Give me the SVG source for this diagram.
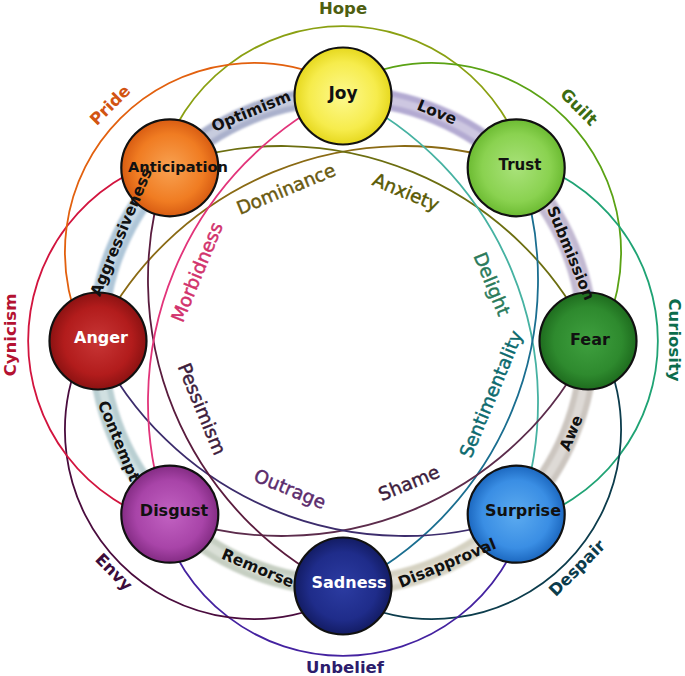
<svg xmlns="http://www.w3.org/2000/svg" width="685" height="676" viewBox="0 0 685 676">
<defs>
<style>
.arc{fill:none;stroke-width:1.8}
.band{fill:none;stroke-width:20}
.hl{fill:none;stroke-width:8;stroke:#ffffff;stroke-opacity:0.35}
.node{stroke:#111;stroke-width:2.2}
.nl{font-family:"DejaVu Sans","Liberation Sans",sans-serif;font-weight:bold;font-size:16px;text-anchor:middle}
.bl{font-family:"DejaVu Sans","Liberation Sans",sans-serif;font-weight:bold;font-size:15.5px;text-anchor:middle;fill:#111}
.ol{font-family:"DejaVu Sans","Liberation Sans",sans-serif;font-weight:bold;font-size:16.5px;text-anchor:middle}
.il{font-family:"DejaVu Sans","Liberation Sans",sans-serif;font-size:18.5px;text-anchor:middle;stroke-width:0.45}
</style>
<filter id="soft" x="-10%" y="-10%" width="120%" height="120%"><feGaussianBlur stdDeviation="1.3"/></filter>
<radialGradient id="gJoy"><stop offset="0" stop-color="#fdf98e"/><stop offset="0.7" stop-color="#f6ec4c"/><stop offset="1" stop-color="#e6d81e"/></radialGradient>
<radialGradient id="gTrust"><stop offset="0" stop-color="#a9e27a"/><stop offset="0.7" stop-color="#8ad250"/><stop offset="1" stop-color="#6cbb32"/></radialGradient>
<radialGradient id="gFear"><stop offset="0" stop-color="#3fa03f"/><stop offset="0.7" stop-color="#2e8a2e"/><stop offset="1" stop-color="#1e6c1e"/></radialGradient>
<radialGradient id="gSurprise"><stop offset="0" stop-color="#5cabf0"/><stop offset="0.7" stop-color="#3a8ee4"/><stop offset="1" stop-color="#1c68c0"/></radialGradient>
<radialGradient id="gSadness"><stop offset="0" stop-color="#2c3ca2"/><stop offset="0.7" stop-color="#1f2c8a"/><stop offset="1" stop-color="#131c64"/></radialGradient>
<radialGradient id="gDisgust"><stop offset="0" stop-color="#c262c2"/><stop offset="0.7" stop-color="#a844a8"/><stop offset="1" stop-color="#842c84"/></radialGradient>
<radialGradient id="gAnger"><stop offset="0" stop-color="#c83636"/><stop offset="0.7" stop-color="#b21c1c"/><stop offset="1" stop-color="#8c1212"/></radialGradient>
<radialGradient id="gAnt"><stop offset="0" stop-color="#f8a252"/><stop offset="0.7" stop-color="#f07c22"/><stop offset="1" stop-color="#d85c12"/></radialGradient>
</defs>
<rect width="685" height="676" fill="#ffffff"/>

<g id="band" filter="url(#soft)">
<path class="band" stroke="#aab1cc" d="M169.76,167.76 A245,245 0 0 1 343,96"/>
<path class="band" stroke="#b3aad2" d="M343,96 A245,245 0 0 1 516.24,167.76"/>
<path class="band" stroke="#c2b9d2" d="M516.24,167.76 A245,245 0 0 1 588,341"/>
<path class="band" stroke="#ccc6c0" d="M588,341 A245,245 0 0 1 516.24,514.24"/>
<path class="band" stroke="#d5d2c2" d="M516.24,514.24 A245,245 0 0 1 343,586"/>
<path class="band" stroke="#c6cfc2" d="M343,586 A245,245 0 0 1 169.76,514.24"/>
<path class="band" stroke="#b9cfd2" d="M169.76,514.24 A245,245 0 0 1 98,341"/>
<path class="band" stroke="#afc6d8" d="M98,341 A245,245 0 0 1 169.76,167.76"/>
<circle class="hl" cx="343" cy="341" r="245"/>
</g>

<g id="connectors">
<!-- secondary dyads (outer) -->
<path class="arc" stroke="#8aa012" d="M160.3,165.9 A189.3,189.3 0 0 1 525.7,165.9"/>
<path class="arc" stroke="#5aa214" d="M160.3,165.9 A189.3,189.3 0 0 1 525.7,165.9" transform="rotate(45 343 341)"/>
<path class="arc" stroke="#1fa374" d="M160.3,165.9 A189.3,189.3 0 0 1 525.7,165.9" transform="rotate(90 343 341)"/>
<path class="arc" stroke="#0c3c4c" d="M160.3,165.9 A189.3,189.3 0 0 1 525.7,165.9" transform="rotate(135 343 341)"/>
<path class="arc" stroke="#4422a0" d="M160.3,165.9 A189.3,189.3 0 0 1 525.7,165.9" transform="rotate(180 343 341)"/>
<path class="arc" stroke="#4a0c3e" d="M160.3,165.9 A189.3,189.3 0 0 1 525.7,165.9" transform="rotate(225 343 341)"/>
<path class="arc" stroke="#d2143e" d="M160.3,165.9 A189.3,189.3 0 0 1 525.7,165.9" transform="rotate(270 343 341)"/>
<path class="arc" stroke="#e2600e" d="M160.3,165.9 A189.3,189.3 0 0 1 525.7,165.9" transform="rotate(315 343 341)"/>
<!-- tertiary dyads (inner) -->
<path class="arc" stroke="#8a6a14" d="M114.8,245.1 A343,343 0 0 1 571.2,245.1" transform="rotate(-22.5 343 341)"/>
<path class="arc" stroke="#6c6e10" d="M114.8,245.1 A343,343 0 0 1 571.2,245.1" transform="rotate(22.5 343 341)"/>
<path class="arc" stroke="#46b2a2" d="M114.8,245.1 A343,343 0 0 1 571.2,245.1" transform="rotate(67.5 343 341)"/>
<path class="arc" stroke="#1a6e90" d="M114.8,245.1 A343,343 0 0 1 571.2,245.1" transform="rotate(112.5 343 341)"/>
<path class="arc" stroke="#5c2c4c" d="M114.8,245.1 A343,343 0 0 1 571.2,245.1" transform="rotate(157.5 343 341)"/>
<path class="arc" stroke="#3c2c6c" d="M114.8,245.1 A343,343 0 0 1 571.2,245.1" transform="rotate(202.5 343 341)"/>
<path class="arc" stroke="#5a1c3e" d="M114.8,245.1 A343,343 0 0 1 571.2,245.1" transform="rotate(247.5 343 341)"/>
<path class="arc" stroke="#e2347a" d="M114.8,245.1 A343,343 0 0 1 571.2,245.1" transform="rotate(-67.5 343 341)"/>
</g>

<text class="bl" transform="translate(119,441) rotate(67.5)" dy="0.35em">Contempt</text>

<g id="joy"><circle class="node" cx="343" cy="96" r="48.5" fill="url(#gJoy)"/><text class="nl" x="343" y="93" dy="0.35em" fill="#111" style="font-size:17px">Joy</text></g>
<g id="trust"><circle class="node" cx="516.2" cy="167.8" r="48.5" fill="url(#gTrust)"/><text class="nl" x="520" y="165" dy="0.35em" fill="#111" style="font-size:15px">Trust</text></g>
<g id="fear"><circle class="node" cx="588" cy="341" r="48.5" fill="url(#gFear)"/><text class="nl" x="590" y="339" dy="0.35em" fill="#111">Fear</text></g>
<g id="surprise"><circle class="node" cx="516.2" cy="514.2" r="48.5" fill="url(#gSurprise)"/><text class="nl" x="523" y="510" dy="0.35em" fill="#111">Surprise</text></g>
<g id="sadness"><circle class="node" cx="343" cy="586" r="48.5" fill="url(#gSadness)"/><text class="nl" x="349" y="582" dy="0.35em" fill="#ffffff">Sadness</text></g>
<g id="disgust"><circle class="node" cx="169.8" cy="514.2" r="48.5" fill="url(#gDisgust)"/><text class="nl" x="174" y="510" dy="0.35em" fill="#111">Disgust</text></g>
<g id="anger"><circle class="node" cx="98" cy="341" r="48.5" fill="url(#gAnger)"/><text class="nl" x="101" y="337" dy="0.35em" fill="#ffffff">Anger</text></g>
<g id="anticipation"><circle class="node" cx="169.8" cy="167.8" r="48.5" fill="url(#gAnt)"/><text class="nl" x="178" y="167" dy="0.35em" fill="#111" style="font-size:14.6px">Anticipation</text></g>

<g id="band-labels">
<text class="bl" transform="translate(251,111) rotate(-22.5)" dy="0.35em">Optimism</text>
<text class="bl" transform="translate(437,112) rotate(22.5)" dy="0.35em">Love</text>
<text class="bl" transform="translate(571,253) rotate(67.5)" dy="0.35em">Submission</text>
<text class="bl" transform="translate(571,433) rotate(-67.5)" dy="0.35em">Awe</text>
<text class="bl" transform="translate(447,563) rotate(-22.5)" dy="0.35em">Disapproval</text>
<text class="bl" transform="translate(258,568) rotate(22.5)" dy="0.35em">Remorse</text>
<text class="bl" transform="translate(121,232) rotate(-67.5)" dy="0.35em">Aggressiveness</text>
</g>

<g id="outer-labels">
<text class="ol" fill="#4e5e10" x="343" y="8" dy="0.35em">Hope</text>
<text class="ol" fill="#3c6c12" transform="translate(579,107) rotate(45)" dy="0.35em">Guilt</text>
<text class="ol" fill="#0c6c4c" transform="translate(675,340) rotate(90)" dy="0.35em">Curiosity</text>
<text class="ol" fill="#0c3c4c" transform="translate(577,568) rotate(-45)" dy="0.35em">Despair</text>
<text class="ol" fill="#2c1c6c" x="345" y="667" dy="0.35em">Unbelief</text>
<text class="ol" fill="#3c0c3c" transform="translate(114,572) rotate(45)" dy="0.35em">Envy</text>
<text class="ol" fill="#b41232" transform="translate(10,335) rotate(-90)" dy="0.35em">Cynicism</text>
<text class="ol" fill="#d25412" transform="translate(110,105) rotate(-45)" dy="0.35em">Pride</text>
</g>

<g id="inner-labels">
<text class="il" fill="#6a5a10" stroke="#6a5a10" transform="translate(286,189) rotate(-22.5)" dy="0.35em">Dominance</text>
<text class="il" fill="#5a5a04" stroke="#5a5a04" transform="translate(406,192) rotate(22.5)" dy="0.35em">Anxiety</text>
<text class="il" fill="#2a7a5a" stroke="#2a7a5a" transform="translate(492,284) rotate(67.5)" dy="0.35em">Delight</text>
<text class="il" fill="#0c6a6e" stroke="#0c6a6e" transform="translate(491,394) rotate(-67.5)" dy="0.35em">Sentimentality</text>
<text class="il" fill="#3c1c3c" stroke="#3c1c3c" transform="translate(409,483) rotate(-22.5)" dy="0.35em">Shame</text>
<text class="il" fill="#5c2c6c" stroke="#5c2c6c" transform="translate(290,489) rotate(22.5)" dy="0.35em">Outrage</text>
<text class="il" fill="#3c1c3c" stroke="#3c1c3c" transform="translate(202,409) rotate(67.5)" dy="0.35em">Pessimism</text>
<text class="il" fill="#d2326c" stroke="#d2326c" transform="translate(197,272) rotate(-67.5)" dy="0.35em">Morbidness</text>
</g>
</svg>
